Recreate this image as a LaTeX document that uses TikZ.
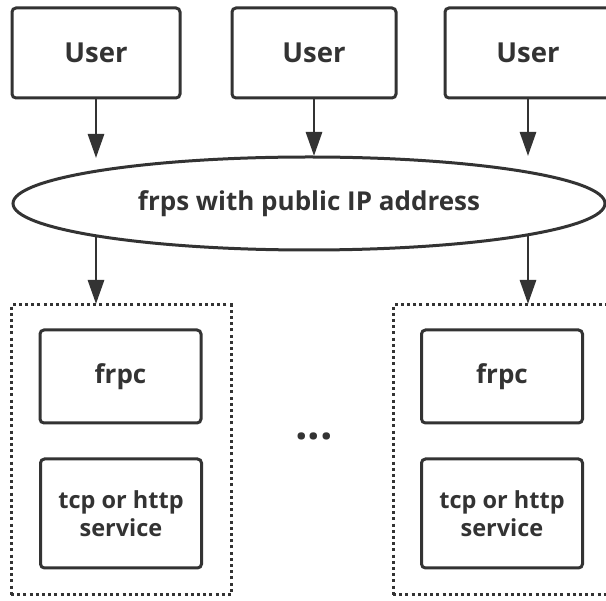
\documentclass[tikz,border=0pt]{standalone}
\usepackage{fontspec}
\setmainfont{Open Sans}
\usetikzlibrary{shapes.geometric,arrows.meta}
\definecolor{ink}{HTML}{333333}
\tikzset{
  every node/.style={text=ink, font=\bfseries},
  userbox/.style={draw=ink, line width=3pt, rounded corners=4pt, minimum width=168pt, minimum height=90pt, font=\bfseries\fontsize{27.5}{32}\selectfont},
  innerbox/.style={draw=ink, line width=3pt, rounded corners=4pt, minimum width=161pt, align=center},
  groupbox/.style={draw=ink, line width=3pt, dash pattern=on 3pt off 3.2pt, minimum width=220pt, minimum height=290pt},
  arr/.style={draw=ink, line width=2.8pt, -{Triangle[length=24pt,width=16pt]}},
  frpcfont/.style={font=\bfseries\fontsize{26}{30}\selectfont},
  svcfont/.style={font=\bfseries\fontsize{23.5}{28}\selectfont},
}
\begin{document}
\begin{tikzpicture}[x=1pt,y=-1pt]
\useasboundingbox (0,0) rectangle (606,601);
% users
\node[userbox] (u1) at (96,53) {User};
\node[userbox, minimum width=164pt] (u2) at (314,53) {User};
\node[userbox, minimum width=166pt] (u3) at (528,53) {User};
% server
\node[ellipse, draw=ink, line width=3pt, minimum width=592pt, minimum height=93pt, inner sep=0pt, font=\bfseries\fontsize{26}{30}\selectfont] (srv) at (309,203.5) {frps with public IP address};
% arrow ends
\coordinate (t1) at (96,158);
\coordinate (t2) at (314,156);
\coordinate (t3) at (528,156);
\coordinate (s1) at (96,236);
\coordinate (s3) at (528,235);
% groups
\node[groupbox] (g1) at (121,450) {};
\node[groupbox] (g2) at (503,450) {};
\coordinate (b1) at (96,304);
\coordinate (b3) at (528,304);
% inner boxes
\node[innerbox, frpcfont, minimum height=93pt] (c1) at (120.5,376.5) {frpc};
\node[innerbox, svcfont, minimum height=109pt] (v1) at (121,513.5) {tcp or http\\service};
\node[innerbox, frpcfont, minimum height=93pt] (c2) at (502,376.5) {frpc};
\node[innerbox, svcfont, minimum height=109pt] (v2) at (502,513.5) {tcp or http\\service};
% dots
\node[font=\bfseries\fontsize{44}{48}\selectfont] (dots) at (314,436) {...};
% connectors
\draw[arr] (u1.south) -- (t1);
\draw[arr] (u2.south) -- (t2);
\draw[arr] (u3.south) -- (t3);
\draw[arr] (s1) -- (b1);
\draw[arr] (s3) -- (b3);
\end{tikzpicture}
\end{document}
